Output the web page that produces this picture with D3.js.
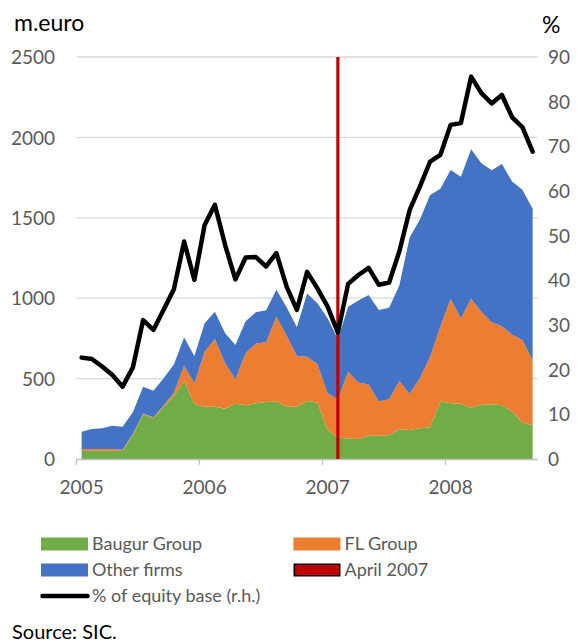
<!DOCTYPE html>
<html>
<head>
<meta charset="utf-8">
<script src="https://cdn.jsdelivr.net/npm/d3@7"></script>
<style>
  html, body { margin: 0; padding: 0; background: #fff; }
  svg { display: block; }
  text { font-family: Lato, "Open Sans", sans-serif; }
</style>
</head>
<body>
<svg id="chart" width="580" height="643"></svg>
<script>
// ---- Data (m.euro, monthly Jan 2005 - Sep 2008) ----
const categories = [
  "2005-01","2005-02","2005-03","2005-04","2005-05","2005-06","2005-07","2005-08","2005-09","2005-10","2005-11","2005-12",
  "2006-01","2006-02","2006-03","2006-04","2006-05","2006-06","2006-07","2006-08","2006-09","2006-10","2006-11","2006-12",
  "2007-01","2007-02","2007-03","2007-04","2007-05","2007-06","2007-07","2007-08","2007-09","2007-10","2007-11","2007-12",
  "2008-01","2008-02","2008-03","2008-04","2008-05","2008-06","2008-07","2008-08","2008-09"
];
const baugur = [50,52,52,52,50,149,278,253,325,390,485,342,
  325,325,313,344,335,346,354,357,325,325,361,352,
  180,133,128,124,145,145,148,185,180,191,197,357,
  346,344,319,338,341,334,296,226,211];
const flGroup = [10,10,10,10,7,6,5,7,7,22,95,129,
  342,421,282,152,322,373,372,528,442,316,275,239,
  229,237,415,351,319,212,223,300,224,311,439,466,
  651,528,677,578,510,491,477,514,405];
const otherFirms = [110,125,129,145,144,135,167,165,170,176,175,170,
  177,170,187,213,199,194,199,168,176,178,394,377,
  466,375,404,510,556,570,569,595,974,988,1006,857,
  800,884,931,923,944,1009,952,935,940];
const equityPct = [22.7,22.4,20.7,18.8,16.2,20.5,31.1,28.9,33.4,38.0,48.7,40.1,
  52.4,56.9,47.9,40.2,45.1,45.2,43.1,46.1,38.6,33.4,41.9,38.2,
  34.1,28.3,39.2,41.2,42.8,39.0,39.5,46.5,55.7,61.0,66.6,68.1,
  74.8,75.2,85.6,81.9,79.6,81.5,76.5,74.3,68.8];
const markerCategory = "2007-02";   // red vertical marker ("April 2007")
const markerValue = 90;
const yLeftTicks = [0,500,1000,1500,2000,2500];
const yRightTicks = [0,10,20,30,40,50,60,70,80,90];
const xTickLabels = ["2005","2006","2007","2008"];
const xTickCategories = ["2005-01","2006-01","2007-01","2008-01"];
const seriesNames = ["Baugur Group","FL Group","Other firms"];
const seriesColors = ["#70AD47","#ED7D31","#4472C4"];

// ---- Chart ----
const svg = d3.select("#chart");
const plot = {left: 76.5, right: 537.75, top: 57, bottom: 459};

const x = d3.scaleBand().domain(categories).range([plot.left, plot.right]).padding(0);
const xc = c => x(c) + x.bandwidth() / 2;
const y = d3.scaleLinear().domain([0, 2500]).range([plot.bottom, plot.top]);
const y2 = d3.scaleLinear().domain([0, 90]).range([plot.bottom, plot.top]);

// gridlines
svg.append("g").selectAll("line").data(yLeftTicks.filter(d => d > 0)).join("line")
  .attr("x1", plot.left).attr("x2", plot.right)
  .attr("y1", d => y(d)).attr("y2", d => y(d))
  .attr("stroke", "#d9d9d9").attr("stroke-width", 1.3);

// stacked areas
const rows = categories.map((c, i) => ({cat: c, b: baugur[i], f: flGroup[i], o: otherFirms[i]}));
const stack = d3.stack().keys(["b","f","o"]);
const layers = stack(rows);
const area = d3.area()
  .x(d => xc(d.data.cat))
  .y0(d => y(d[0]))
  .y1(d => y(d[1]));
svg.append("g").selectAll("path").data(layers).join("path")
  .attr("d", area)
  .attr("fill", (d, i) => seriesColors[i]);

// x axis
const xAxis = d3.axisBottom(x)
  .tickValues(xTickCategories)
  .tickSize(6)
  .tickFormat(() => "");
const gx = svg.append("g").attr("transform", `translate(0,${plot.bottom})`).call(xAxis);
gx.select(".domain").attr("stroke", "#bfbfbf").attr("stroke-width", 1.3)
  .attr("d", `M${plot.left},0.5H${plot.right}`);
gx.selectAll(".tick line").attr("stroke", "#bfbfbf").attr("stroke-width", 1.3)
  .attr("transform", `translate(${-x.bandwidth()/2},0)`);
svg.append("g").selectAll("text").data(xTickLabels).join("text")
  .attr("x", (d, i) => xc(xTickCategories[i]))
  .attr("y", 489)
  .attr("text-anchor", "middle")
  .attr("dominant-baseline", "middle")
  .attr("font-size", 19)
  .attr("fill", "#595959")
  .text(d => d);

// left axis labels
const yAxis = d3.axisLeft(y).tickValues(yLeftTicks).tickFormat(d3.format("d")).tickSize(0).tickPadding(0);
const gy = svg.append("g").attr("transform", `translate(55,0)`).call(yAxis);
gy.select(".domain").remove();
gy.selectAll("text").attr("font-size", 19).attr("fill", "#595959")
  .attr("font-family", "Lato, sans-serif").attr("dy", "0.35em").attr("x", 0);

// right axis labels
const y2Axis = d3.axisRight(y2).tickValues(yRightTicks).tickFormat(d3.format("d")).tickSize(0).tickPadding(0);
const gy2 = svg.append("g").attr("transform", `translate(548,0)`).call(y2Axis);
gy2.select(".domain").remove();
gy2.selectAll("text").attr("font-size", 19).attr("fill", "#595959")
  .attr("font-family", "Lato, sans-serif").attr("dy", "0.35em").attr("x", 0);

// red marker bar
svg.append("rect")
  .attr("x", xc(markerCategory) - 1.6)
  .attr("width", 3.2)
  .attr("y", y2(markerValue))
  .attr("height", y2(0) - y2(markerValue))
  .attr("fill", "#C00000");

// percent line
const line = d3.line()
  .x((d, i) => xc(categories[i]))
  .y(d => y2(d));
svg.append("path").datum(equityPct)
  .attr("d", line)
  .attr("fill", "none")
  .attr("stroke", "#000")
  .attr("stroke-width", 4.5)
  .attr("stroke-linejoin", "round")
  .attr("stroke-linecap", "round");

// axis titles
svg.append("text").attr("x", 14).attr("y", 25).attr("dominant-baseline", "middle")
  .attr("font-size", 23).attr("fill", "#000").text("m.euro");
svg.append("text").attr("x", 542).attr("y", 27).attr("dominant-baseline", "middle")
  .attr("font-size", 23).attr("fill", "#000").text("%");

// legend
const legendItems = [
  {name: seriesNames[0], type: "rect", color: seriesColors[0], col: 0, row: 0},
  {name: seriesNames[1], type: "rect", color: seriesColors[1], col: 1, row: 0},
  {name: seriesNames[2], type: "rect", color: seriesColors[2], col: 0, row: 1},
  {name: "April 2007", type: "bar", color: "#C00000", col: 1, row: 1},
  {name: "% of equity base (r.h.)", type: "line", color: "#000", col: 0, row: 2}
];
const colX = [41, 293.5];
const rowY = [544, 570, 596];
const lg = svg.append("g");
legendItems.forEach(it => {
  const gx0 = colX[it.col], gy0 = rowY[it.row];
  if (it.type === "rect") {
    lg.append("rect").attr("x", gx0).attr("y", gy0 - 6.5).attr("width", 47).attr("height", 13).attr("fill", it.color);
  } else if (it.type === "bar") {
    lg.append("rect").attr("x", gx0 + 0.75).attr("y", gy0 - 5.75).attr("width", 45.5).attr("height", 11.5)
      .attr("fill", it.color).attr("stroke", "#000").attr("stroke-width", 1.5);
  } else {
    lg.append("line").attr("x1", gx0 + 1.5).attr("x2", gx0 + 46.5).attr("y1", gy0).attr("y2", gy0)
      .attr("stroke", it.color).attr("stroke-width", 4.5).attr("stroke-linecap", "round");
  }
  lg.append("text").attr("x", gx0 + 51).attr("y", gy0 + 1).attr("dominant-baseline", "middle")
    .attr("font-size", 18).attr("fill", "#595959").text(it.name);
});

// source
svg.append("text").attr("x", 12).attr("y", 634).attr("dominant-baseline", "middle")
  .attr("font-size", 20).attr("fill", "#000").text("Source: SIC.");
</script>
</body>
</html>
